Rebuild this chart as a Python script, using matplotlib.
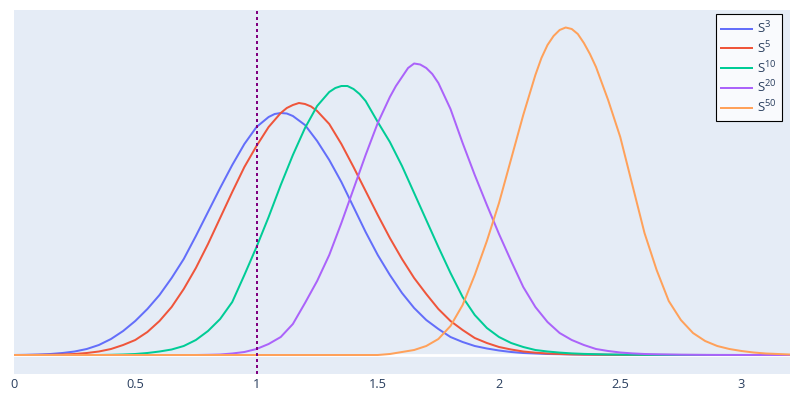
import matplotlib
matplotlib.use("Agg")
import matplotlib.pyplot as plt

plt.rcParams['font.family'] = ['Open Sans', 'DejaVu Sans']
plt.rcParams['mathtext.fontset'] = 'custom'
plt.rcParams['mathtext.rm'] = 'Open Sans'
plt.rcParams['mathtext.it'] = 'Open Sans'
plt.rcParams['mathtext.default'] = 'regular'

# x grid shared by all curves
x = [0.00, 0.05, 0.10, 0.15, 0.20, 0.25, 0.30, 0.35, 0.40, 0.45,
     0.50, 0.55, 0.60, 0.65, 0.70, 0.75, 0.80, 0.85, 0.90, 0.95,
     1.00, 1.05, 1.10, 1.15, 1.20, 1.25, 1.30, 1.35, 1.40, 1.45,
     1.50, 1.55, 1.60, 1.65, 1.70, 1.75, 1.80, 1.85, 1.90, 1.95,
     2.00, 2.05, 2.10, 2.15, 2.20, 2.25, 2.30, 2.35, 2.40, 2.45,
     2.50, 2.55, 2.60, 2.65, 2.70, 2.75, 2.80, 2.85, 2.90, 2.95,
     3.00, 3.05, 3.10, 3.15, 3.20]

# densities (arbitrary units)
s3 = [0, 0.2, 0.5, 1, 2, 3.5, 6, 10, 16, 24,
      34, 46, 60, 77, 96, 119, 143, 167, 190, 211,
      228, 238, 242, 239, 230, 214, 195, 173, 148, 123,
      100, 80, 62, 47, 35, 26, 18, 13, 9, 6.5,
      4.5, 3, 2, 1.5, 1, 0.8, 0.6, 0.4, 0.3, 0.2,
      0.15, 0.1, 0.08, 0.05, 0.03, 0.02, 0.02, 0.01, 0.01, 0.01,
      0, 0, 0, 0, 0]

s5 = [0, 0, 0.1, 0.2, 0.5, 1, 2, 3.5, 6, 10,
      15, 23, 34, 48, 66, 87, 111, 137, 163, 188,
      209, 228, 242, 250, 251, 244, 231, 211, 188, 164,
      140, 117, 96, 77, 61, 46, 34, 25, 17, 12,
      8, 5.5, 3.5, 2.3, 1.5, 1, 0.6, 0.4, 0.3, 0.2,
      0.1, 0.08, 0.05, 0.03, 0.02, 0.01, 0.01, 0, 0, 0,
      0, 0, 0, 0, 0]

s10 = [0, 0, 0, 0, 0, 0, 0, 0, 0.2, 0.5,
       1, 2, 3.5, 5.5, 9, 15, 24, 36, 53, 80,
       108, 138, 170, 200, 227, 249, 263, 269, 266, 254,
       233, 213, 189, 162, 135, 108, 82, 58, 40, 27,
       18, 12, 8, 5, 3.5, 2.4, 1.6, 1.1, 0.8, 0.5,
       0.35, 0.25, 0.15, 0.1, 0.06, 0.04, 0.03, 0.02, 0.01, 0.01,
       0, 0, 0, 0, 0]

s20 = [0, 0, 0, 0, 0, 0, 0, 0, 0, 0,
       0, 0, 0, 0, 0, 0, 0.2, 0.5, 1.5, 3,
       6, 11, 18, 31, 52, 74, 100, 132, 166, 200,
       232, 258, 278, 291.5, 287, 272, 246, 212, 180, 150,
       121, 94, 68, 48, 33, 22, 15, 10, 6, 4,
       2.5, 1.6, 1, 0.7, 0.5, 0.3, 0.2, 0.1, 0.05, 0.03,
       0.02, 0.01, 0, 0, 0]

s50 = [0, 0, 0, 0, 0, 0, 0, 0, 0, 0,
       0, 0, 0, 0, 0, 0, 0, 0, 0, 0,
       0, 0, 0, 0, 0, 0, 0, 0, 0, 0,
       0, 1, 3, 5, 9, 16, 29, 50, 80, 114,
       152, 196, 240, 280, 310, 325, 326, 312, 288, 255,
       218, 170, 122, 85, 54, 35, 22, 14, 9, 6,
       4, 2.5, 1.5, 1, 0.5]

# extra points read around each peak (finer spacing there)
s3_peak_x = [1.075, 1.125]
s3_peak_y = [241, 241.5]
s5_peak_x = [1.125, 1.175, 1.225]
s5_peak_y = [247, 252, 248.5]
s10_peak_x = [1.325, 1.375, 1.425]
s10_peak_y = [267, 269, 261]
s20_peak_x = [1.575, 1.625, 1.675, 1.725]
s20_peak_y = [269, 287, 290.5, 281]
s50_peak_x = [2.175, 2.225, 2.275, 2.325, 2.375]
s50_peak_y = [297, 319, 327.5, 321, 301]

labels = ['S$^{3}$', 'S$^{5}$', 'S$^{10}$', 'S$^{20}$', 'S$^{50}$']
colors = ['#636EFA', '#EF553B', '#00CC96', '#AB63FA', '#FFA15A']
xticks = [0, 0.5, 1, 1.5, 2, 2.5, 3]
xtick_labels = ['0', '0.5', '1', '1.5', '2', '2.5', '3']
vline_x = 1


def merge(xs, ys, px, py):
    pts = sorted(list(zip(xs, ys)) + list(zip(px, py)))
    return [p[0] for p in pts], [p[1] for p in pts]


series = [
    merge(x, s3, s3_peak_x, s3_peak_y),
    merge(x, s5, s5_peak_x, s5_peak_y),
    merge(x, s10, s10_peak_x, s10_peak_y),
    merge(x, s20, s20_peak_x, s20_peak_y),
    merge(x, s50, s50_peak_x, s50_peak_y),
]

fig = plt.figure(figsize=(8, 4), dpi=100)
ax = fig.add_axes([14 / 800, 26 / 400, 776 / 800, 364 / 400])
ax.set_facecolor('#E5ECF6')

# white zero line like the plotly template
ax.axhline(0, color='white', lw=2.0, zorder=1)

for (xs, ys), lab, col in zip(series, labels, colors):
    ax.plot(xs, ys, color=col, lw=1.44, label=lab, zorder=3)

ax.axvline(vline_x, color='purple', lw=1.44, linestyle=(0, (1.5, 1.5)), zorder=5)

ax.set_xlim(0, 3.2)
ax.set_ylim(-19, 345)
ax.set_xticks(xticks)
ax.set_xticklabels(xtick_labels)
ax.set_yticks([])
ax.tick_params(axis='x', length=0, pad=3, labelsize=9.2, labelcolor='#2a3f5f')
for sp in ax.spines.values():
    sp.set_visible(False)

leg = ax.legend(loc='upper right', bbox_to_anchor=(0.9893, 0.988), borderaxespad=0,
                fontsize=9.6, handlelength=2.3, handletextpad=0.35, borderpad=0.4,
                labelspacing=0.24, fancybox=False, framealpha=1,
                facecolor='#F9FAFD', edgecolor='black')
leg.get_frame().set_linewidth(0.8)
for t in leg.get_texts():
    t.set_color('#2a3f5f')

fig.savefig('out.png', dpi=100)
